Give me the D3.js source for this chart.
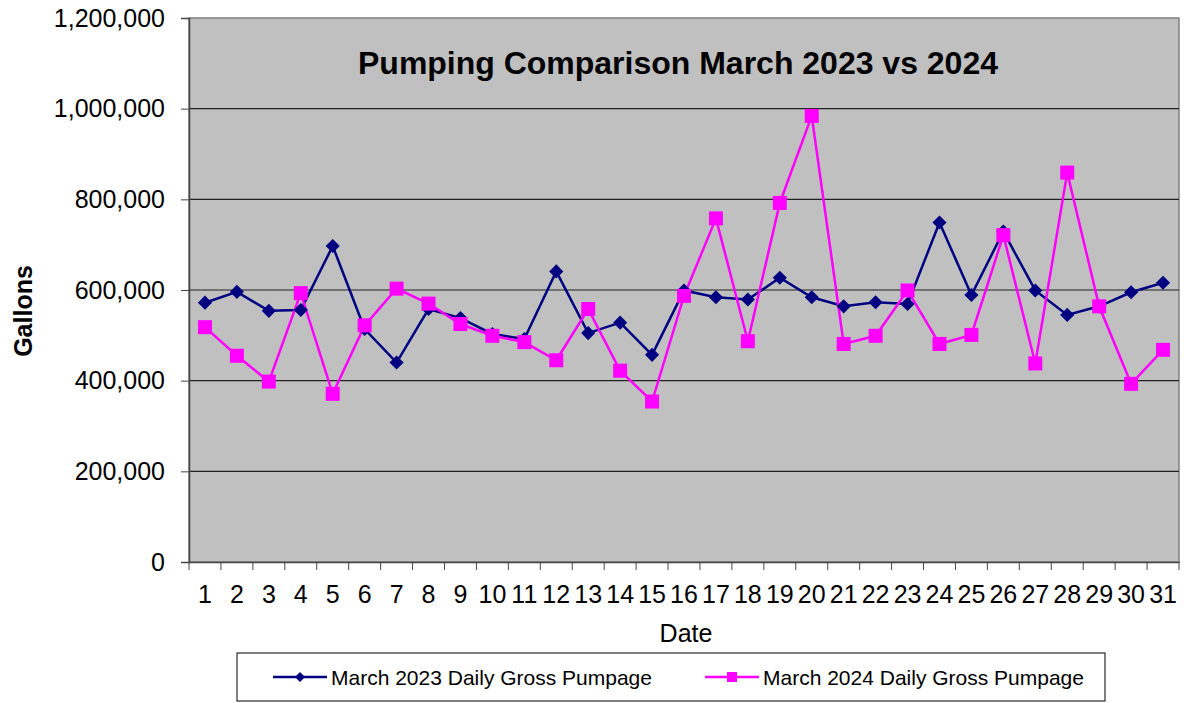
<!DOCTYPE html>
<html>
<head>
<meta charset="utf-8">
<script src="https://cdn.jsdelivr.net/npm/d3@7"></script>
<style>
  body { margin: 0; background: #fff; }
  svg { display: block; font-family: "Liberation Sans", Arial, sans-serif; }
</style>
</head>
<body>
<div id="chart"></div>
<script>
// Daily gross pumpage, gallons
const days = d3.range(1, 32);
const march2023 = [572000, 596000, 554000, 556000, 697000, 514000, 440000, 558000, 538000, 503000,
  492000, 641000, 505000, 528000, 457000, 599000, 584000, 579000, 627000, 584000,
  564000, 573000, 569000, 749000, 589000, 729000, 599000, 545000, 564000, 595000, 616000];
const march2024 = [518000, 455000, 398000, 593000, 371000, 522000, 603000, 570000, 525000, 499000,
  485000, 445000, 558000, 422000, 354000, 587000, 758000, 487000, 792000, 984000,
  481000, 499000, 599000, 481000, 501000, 721000, 438000, 859000, 564000, 393000, 468000];
const yTicks = [0, 200000, 400000, 600000, 800000, 1000000, 1200000];

const W = 1186, H = 703;
const plot = { left: 189, right: 1179, top: 18, bottom: 562 };
const FONT = "Liberation Sans, Arial, sans-serif";

const svg = d3.select("#chart").append("svg")
  .attr("width", W)
  .attr("height", H);

const x = d3.scaleBand()
  .domain(days)
  .range([plot.left, plot.right]);

const y = d3.scaleLinear()
  .domain([0, 1200000])
  .range([plot.bottom, plot.top]);

// plot background
svg.append("rect")
  .attr("x", plot.left).attr("y", plot.top)
  .attr("width", plot.right - plot.left)
  .attr("height", plot.bottom - plot.top)
  .attr("fill", "#c0c0c0")
  .attr("stroke", "#808080")
  .attr("stroke-width", 1.5);

// gridlines
svg.append("g")
  .selectAll("line")
  .data(yTicks.filter(d => d > 0 && d < 1200000))
  .join("line")
  .attr("x1", plot.left).attr("x2", plot.right)
  .attr("y1", d => y(d)).attr("y2", d => y(d))
  .attr("stroke", "#222")
  .attr("stroke-width", 1.2);

// y axis
const yAxis = svg.append("g")
  .attr("transform", `translate(${plot.left},0)`)
  .call(d3.axisLeft(y).tickValues(yTicks).tickFormat(d3.format(",")).tickSize(8).tickPadding(16));
yAxis.select(".domain").attr("stroke", "#444").attr("stroke-width", 1.5);
yAxis.selectAll(".tick line").attr("stroke", "#444");
yAxis.selectAll("text").attr("font-size", 25).attr("fill", "#000").attr("font-family", FONT);

// x axis (ticks between categories)
const xAxis = svg.append("g")
  .attr("transform", `translate(0,${plot.bottom})`)
  .call(d3.axisBottom(x).tickSize(0).tickPadding(23));
xAxis.select(".domain").attr("stroke", "#444").attr("stroke-width", 1.5);
xAxis.selectAll("text").attr("font-size", 25).attr("fill", "#000").attr("font-family", FONT);
svg.append("g")
  .selectAll("line")
  .data(d3.range(0, 32))
  .join("line")
  .attr("x1", i => plot.left + i * x.step())
  .attr("x2", i => plot.left + i * x.step())
  .attr("y1", plot.bottom).attr("y2", plot.bottom + 8)
  .attr("stroke", "#444");

// series
const line = d3.line()
  .x((d, i) => x(days[i]) + x.bandwidth() / 2)
  .y(d => y(d));

svg.append("path")
  .datum(march2023)
  .attr("fill", "none")
  .attr("stroke", "#000080")
  .attr("stroke-width", 2.5)
  .attr("d", line);

svg.append("path")
  .datum(march2024)
  .attr("fill", "none")
  .attr("stroke", "#ff00ff")
  .attr("stroke-width", 2.5)
  .attr("d", line);

const diamond = d3.symbol().type(d3.symbolSquare).size(100);

svg.append("g")
  .selectAll("path")
  .data(march2023)
  .join("path")
  .attr("d", diamond)
  .attr("transform", (d, i) => `translate(${x(days[i]) + x.bandwidth() / 2},${y(d)}) rotate(45)`)
  .attr("fill", "#000080");

svg.append("g")
  .selectAll("rect")
  .data(march2024)
  .join("rect")
  .attr("x", (d, i) => x(days[i]) + x.bandwidth() / 2 - 7)
  .attr("y", d => y(d) - 7)
  .attr("width", 14).attr("height", 14)
  .attr("fill", "#ff00ff");

// titles
svg.append("text")
  .attr("x", 678).attr("y", 74)
  .attr("text-anchor", "middle")
  .attr("font-size", 31).attr("font-weight", "bold")
  .attr("textLength", 640).attr("lengthAdjust", "spacingAndGlyphs")
  .text("Pumping Comparison March 2023 vs 2024");

svg.append("text")
  .attr("transform", `translate(32,311) rotate(-90)`)
  .attr("text-anchor", "middle")
  .attr("font-size", 25).attr("font-weight", "bold")
  .text("Gallons");

svg.append("text")
  .attr("x", 686).attr("y", 642)
  .attr("text-anchor", "middle")
  .attr("font-size", 25)
  .text("Date");

// legend
const legend = svg.append("g");
legend.append("rect")
  .attr("x", 237).attr("y", 653)
  .attr("width", 868).attr("height", 48)
  .attr("fill", "#fff")
  .attr("stroke", "#000")
  .attr("stroke-width", 1);

const items = [
  { label: "March 2023 Daily Gross Pumpage", color: "#000080", marker: "diamond", x: 273 },
  { label: "March 2024 Daily Gross Pumpage", color: "#ff00ff", marker: "square", x: 705 }
];
items.forEach(it => {
  const cy = 677;
  legend.append("line")
    .attr("x1", it.x).attr("x2", it.x + 54)
    .attr("y1", cy).attr("y2", cy)
    .attr("stroke", it.color).attr("stroke-width", 2.5);
  if (it.marker === "diamond") {
    legend.append("path")
      .attr("d", d3.symbol().type(d3.symbolSquare).size(50))
      .attr("transform", `translate(${it.x + 27},${cy}) rotate(45)`)
      .attr("fill", it.color);
  } else {
    legend.append("rect")
      .attr("x", it.x + 22).attr("y", cy - 5)
      .attr("width", 10).attr("height", 10)
      .attr("fill", it.color);
  }
  legend.append("text")
    .attr("x", it.x + 58).attr("y", cy + 8)
    .attr("font-size", 21)
    .text(it.label);
});
</script>
</body>
</html>
